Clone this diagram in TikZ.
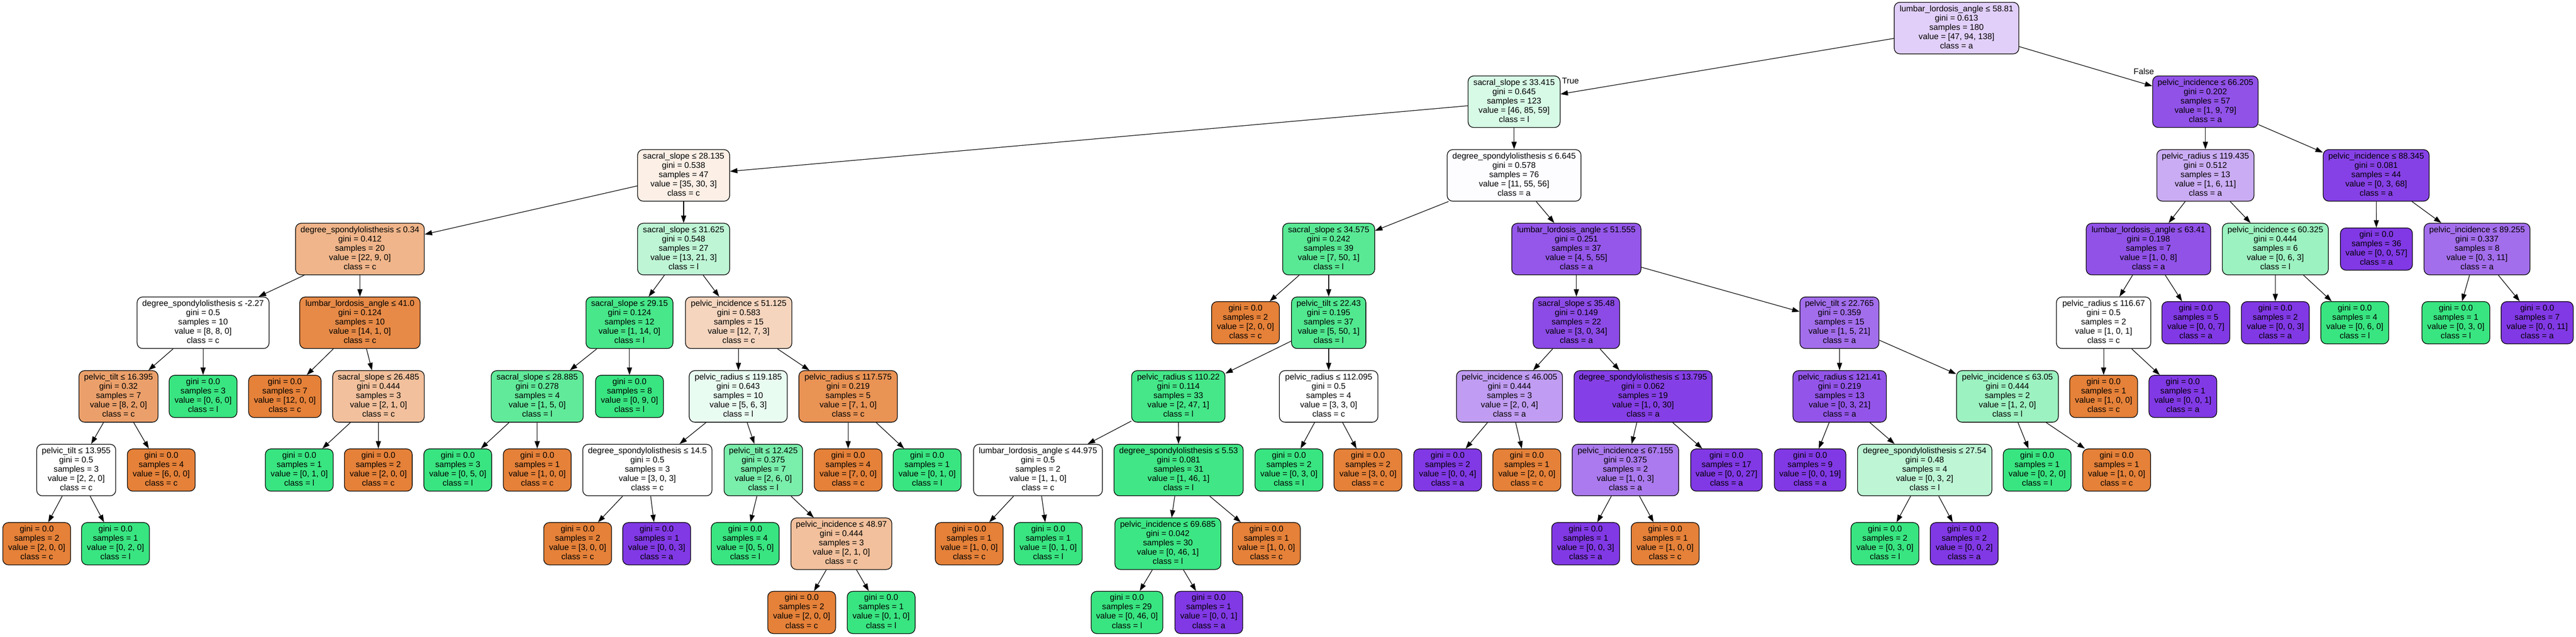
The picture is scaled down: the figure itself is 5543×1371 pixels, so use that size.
\documentclass[tikz,border=0pt]{standalone}
\usepackage{fontspec}
\setmainfont{Liberation Sans}
\usetikzlibrary{arrows.meta}
\definecolor{kC}{RGB}{229,129,57}
\definecolor{kL}{RGB}{57,229,129}
\definecolor{kA}{RGB}{129,57,229}
\newcommand{\IT}[5]{\strut #1\\gini = #2\\samples = #3\\value = [#4]\\class = #5\strut}
\newcommand{\LT}[4]{\strut gini = #1\\samples = #2\\value = [#3]\\class = #4\strut}
\tikzset{
  tn/.style={draw=black, line width=1.4pt, rounded corners=12pt, align=center,
    font=\fontsize{17.9}{20}\selectfont, inner sep=0pt, minimum height=111pt},
  lf/.style={tn, minimum height=91pt, minimum width=146pt},
  edge/.style={line width=1.3pt, -{Triangle[length=16pt,width=11pt]}},
  elab/.style={font=\fontsize{17.9}{20}\selectfont, inner sep=0pt}
}
\begin{document}
\begin{tikzpicture}[x=1pt,y=-1pt]
\useasboundingbox[fill=white] (0,0) rectangle (5543,1371);
% level 0
\node[tn, minimum width=268pt, fill=kA!24!white] (n0) at (4210,60.5) {\IT{lumbar\_lordosis\_angle ≤ 58.81}{0.613}{180}{47, 94, 138}{a}};
% level 1
\node[tn, minimum width=198pt, fill=kL!20!white] (n1) at (3258,219) {\IT{sacral\_slope ≤ 33.415}{0.645}{123}{46, 85, 59}{l}};
\node[tn, minimum width=227pt, fill=kA!87.5!white] (n2) at (4745.5,219) {\IT{pelvic\_incidence ≤ 66.205}{0.202}{57}{1, 9, 79}{a}};
% level 2
\node[tn, minimum width=198pt, fill=kC!13!white] (n3) at (1471,377.6) {\IT{sacral\_slope ≤ 28.135}{0.538}{47}{35, 30, 3}{c}};
\node[tn, minimum width=288pt, fill=kA!1.5!white] (n4) at (3258,377.6) {\IT{degree\_spondylolisthesis ≤ 6.645}{0.578}{76}{11, 55, 56}{a}};
\node[tn, minimum width=209pt, fill=kA!42!white] (n5) at (4745.5,377.6) {\IT{pelvic\_radius ≤ 119.435}{0.512}{13}{1, 6, 11}{a}};
\node[tn, minimum width=228pt, fill=kA!96!white] (n6) at (5113,377.6) {\IT{pelvic\_incidence ≤ 88.345}{0.081}{44}{0, 3, 68}{a}};
% level 3
\node[tn, minimum width=277pt, fill=kC!59!white] (n7) at (774.5,536.2) {\IT{degree\_spondylolisthesis ≤ 0.34}{0.412}{20}{22, 9, 0}{c}};
\node[tn, minimum width=198pt, fill=kL!33!white] (n8) at (1471,536.2) {\IT{sacral\_slope ≤ 31.625}{0.548}{27}{13, 21, 3}{l}};
\node[tn, minimum width=198pt, fill=kL!84!white] (n9) at (2859,536.2) {\IT{sacral\_slope ≤ 34.575}{0.242}{39}{7, 50, 1}{l}};
\node[tn, minimum width=278pt, fill=kA!85!white] (n10) at (3392,536.2) {\IT{lumbar\_lordosis\_angle ≤ 51.555}{0.251}{37}{4, 5, 55}{a}};
\node[tn, minimum width=268pt, fill=kA!87.5!white] (n11) at (4623,536.2) {\IT{lumbar\_lordosis\_angle ≤ 63.41}{0.198}{7}{1, 0, 8}{a}};
\node[tn, minimum width=228pt, fill=kL!50!white] (n12) at (4896,536.2) {\IT{pelvic\_incidence ≤ 60.325}{0.444}{6}{0, 6, 3}{l}};
\node[lf, minimum width=155pt, fill=kA] (n13) at (5113.5,536.2) {\LT{0.0}{36}{0, 0, 57}{a}};
\node[tn, minimum width=228pt, fill=kA!73!white] (n14) at (5330,536.2) {\IT{pelvic\_incidence ≤ 89.255}{0.337}{8}{0, 3, 11}{a}};
% level 4
\node[tn, minimum width=284pt, fill=white] (n15) at (437,694.8) {\IT{degree\_spondylolisthesis ≤ -2.27}{0.5}{10}{8, 8, 0}{c}};
\node[tn, minimum width=259pt, fill=kC!93!white] (n16) at (774.5,694.8) {\IT{lumbar\_lordosis\_angle ≤ 41.0}{0.124}{10}{14, 1, 0}{c}};
\node[tn, minimum width=187pt, fill=kL!93!white] (n17) at (1354.5,694.8) {\IT{sacral\_slope ≤ 29.15}{0.124}{12}{1, 14, 0}{l}};
\node[tn, minimum width=229pt, fill=kC!33!white] (n18) at (1589.5,694.8) {\IT{pelvic\_incidence ≤ 51.125}{0.583}{15}{12, 7, 3}{c}};
\node[lf, fill=kC] (n19) at (2680,694.8) {\LT{0.0}{2}{2, 0, 0}{c}};
\node[tn, minimum width=160pt, fill=kL!88!white] (n20) at (2859,694.8) {\IT{pelvic\_tilt ≤ 22.43}{0.195}{37}{5, 50, 1}{l}};
\node[tn, minimum width=186pt, fill=kA!91!white] (n21) at (3392,694.8) {\IT{sacral\_slope ≤ 35.48}{0.149}{22}{3, 0, 34}{a}};
\node[tn, minimum width=170pt, fill=kA!73!white] (n22) at (3958,694.8) {\IT{pelvic\_tilt ≤ 22.765}{0.359}{15}{1, 5, 21}{a}};
\node[tn, minimum width=203pt, fill=white] (n23) at (4526.5,694.8) {\IT{pelvic\_radius ≤ 116.67}{0.5}{2}{1, 0, 1}{c}};
\node[lf, fill=kA] (n24) at (4725,694.8) {\LT{0.0}{5}{0, 0, 7}{a}};
\node[lf, fill=kA] (n25) at (4896,694.8) {\LT{0.0}{2}{0, 0, 3}{a}};
\node[lf, fill=kL] (n26) at (5067,694.8) {\LT{0.0}{4}{0, 6, 0}{l}};
\node[lf, fill=kL] (n27) at (5284.5,694.8) {\LT{0.0}{1}{0, 3, 0}{l}};
\node[lf, minimum width=155pt, fill=kA] (n28) at (5459.5,694.8) {\LT{0.0}{7}{0, 0, 11}{a}};
% level 5
\node[tn, minimum width=170pt, fill=kC!75!white] (n29) at (255,853.4) {\IT{pelvic\_tilt ≤ 16.395}{0.32}{7}{8, 2, 0}{c}};
\node[lf, fill=kL] (n30) at (437,853.4) {\LT{0.0}{3}{0, 6, 0}{l}};
\node[lf, minimum width=156pt, fill=kC] (n31) at (613,853.4) {\LT{0.0}{7}{12, 0, 0}{c}};
\node[tn, minimum width=197pt, fill=kC!50!white] (n32) at (814.5,853.4) {\IT{sacral\_slope ≤ 26.485}{0.444}{3}{2, 1, 0}{c}};
\node[tn, minimum width=198pt, fill=kL!80!white] (n33) at (1156,853.4) {\IT{sacral\_slope ≤ 28.885}{0.278}{4}{1, 5, 0}{l}};
\node[lf, fill=kL] (n34) at (1354.5,853.4) {\LT{0.0}{8}{0, 9, 0}{l}};
\node[tn, minimum width=211pt, fill=kL!11!white] (n35) at (1588.5,853.4) {\IT{pelvic\_radius ≤ 119.185}{0.643}{10}{5, 6, 3}{l}};
\node[tn, minimum width=212pt, fill=kC!86!white] (n36) at (1825,853.4) {\IT{pelvic\_radius ≤ 117.575}{0.219}{5}{7, 1, 0}{c}};
\node[tn, minimum width=201pt, fill=kL!94!white] (n37) at (2535.5,853.4) {\IT{pelvic\_radius ≤ 110.22}{0.114}{33}{2, 47, 1}{l}};
\node[tn, minimum width=212pt, fill=white] (n38) at (2859,853.4) {\IT{pelvic\_radius ≤ 112.095}{0.5}{4}{3, 3, 0}{c}};
\node[tn, minimum width=228pt, fill=kA!50!white] (n39) at (3248,853.4) {\IT{pelvic\_incidence ≤ 46.005}{0.444}{3}{2, 0, 4}{a}};
\node[tn, minimum width=297pt, fill=kA!97!white] (n40) at (3535.5,853.4) {\IT{degree\_spondylolisthesis ≤ 13.795}{0.062}{19}{1, 0, 30}{a}};
\node[tn, minimum width=201pt, fill=kA!86!white] (n41) at (3958.5,853.4) {\IT{pelvic\_radius ≤ 121.41}{0.219}{13}{0, 3, 21}{a}};
\node[tn, minimum width=219pt, fill=kL!50!white] (n42) at (4319.5,853.4) {\IT{pelvic\_incidence ≤ 63.05}{0.444}{2}{1, 2, 0}{l}};
\node[lf, fill=kC] (n43) at (4526.5,853.4) {\LT{0.0}{1}{1, 0, 0}{c}};
\node[lf, fill=kA] (n44) at (4697,853.4) {\LT{0.0}{1}{0, 0, 1}{a}};
% level 6
\node[tn, minimum width=170pt, fill=white] (n45) at (164,1011.9) {\IT{pelvic\_tilt ≤ 13.955}{0.5}{3}{2, 2, 0}{c}};
\node[lf, fill=kC] (n46) at (347,1011.9) {\LT{0.0}{4}{6, 0, 0}{c}};
\node[lf, fill=kL] (n47) at (644,1011.9) {\LT{0.0}{1}{0, 1, 0}{l}};
\node[lf, fill=kC] (n48) at (814,1011.9) {\LT{0.0}{2}{2, 0, 0}{c}};
\node[lf, fill=kL] (n49) at (985,1011.9) {\LT{0.0}{3}{0, 5, 0}{l}};
\node[lf, fill=kC] (n50) at (1156,1011.9) {\LT{0.0}{1}{1, 0, 0}{c}};
\node[tn, minimum width=278pt, fill=white] (n51) at (1393,1011.9) {\IT{degree\_spondylolisthesis ≤ 14.5}{0.5}{3}{3, 0, 3}{c}};
\node[tn, minimum width=169pt, fill=kL!67!white] (n52) at (1642.5,1011.9) {\IT{pelvic\_tilt ≤ 12.425}{0.375}{7}{2, 6, 0}{l}};
\node[lf, fill=kC] (n53) at (1825,1011.9) {\LT{0.0}{4}{7, 0, 0}{c}};
\node[lf, fill=kL] (n54) at (1995,1011.9) {\LT{0.0}{1}{0, 1, 0}{l}};
\node[tn, minimum width=277pt, fill=white] (n55) at (2233.5,1011.9) {\IT{lumbar\_lordosis\_angle ≤ 44.975}{0.5}{2}{1, 1, 0}{c}};
\node[tn, minimum width=278pt, fill=kL!96!white] (n56) at (2536,1011.9) {\IT{degree\_spondylolisthesis ≤ 5.53}{0.081}{31}{1, 46, 1}{l}};
\node[lf, fill=kL] (n57) at (2773.5,1011.9) {\LT{0.0}{2}{0, 3, 0}{l}};
\node[lf, fill=kC] (n58) at (2943.5,1011.9) {\LT{0.0}{2}{3, 0, 0}{c}};
\node[lf, fill=kA] (n59) at (3115,1011.9) {\LT{0.0}{2}{0, 0, 4}{a}};
\node[lf, fill=kC] (n60) at (3285.5,1011.9) {\LT{0.0}{1}{2, 0, 0}{c}};
\node[tn, minimum width=229pt, fill=kA!67!white] (n61) at (3497.5,1011.9) {\IT{pelvic\_incidence ≤ 67.155}{0.375}{2}{1, 0, 3}{a}};
\node[lf, minimum width=154pt, fill=kA] (n62) at (3715,1011.9) {\LT{0.0}{17}{0, 0, 27}{a}};
\node[lf, minimum width=154pt, fill=kA] (n63) at (3895,1011.9) {\LT{0.0}{9}{0, 0, 19}{a}};
\node[tn, minimum width=289pt, fill=kL!33!white] (n64) at (4141.5,1011.9) {\IT{degree\_spondylolisthesis ≤ 27.54}{0.48}{4}{0, 3, 2}{l}};
\node[lf, fill=kL] (n65) at (4383.5,1011.9) {\LT{0.0}{1}{0, 2, 0}{l}};
\node[lf, fill=kC] (n66) at (4554.5,1011.9) {\LT{0.0}{1}{1, 0, 0}{c}};
% level 7
\node[lf, fill=kC] (n67) at (79,1170.5) {\LT{0.0}{2}{2, 0, 0}{c}};
\node[lf, fill=kL] (n68) at (248.5,1170.5) {\LT{0.0}{1}{0, 2, 0}{l}};
\node[lf, fill=kC] (n69) at (1243,1170.5) {\LT{0.0}{2}{3, 0, 0}{c}};
\node[lf, fill=kA] (n70) at (1413,1170.5) {\LT{0.0}{1}{0, 0, 3}{a}};
\node[lf, fill=kL] (n71) at (1603.5,1170.5) {\LT{0.0}{4}{0, 5, 0}{l}};
\node[tn, minimum width=217pt, fill=kC!50!white] (n72) at (1810.5,1170.5) {\IT{pelvic\_incidence ≤ 48.97}{0.444}{3}{2, 1, 0}{c}};
\node[lf, fill=kC] (n73) at (2085.5,1170.5) {\LT{0.0}{1}{1, 0, 0}{c}};
\node[lf, fill=kL] (n74) at (2255.5,1170.5) {\LT{0.0}{1}{0, 1, 0}{l}};
\node[tn, minimum width=228pt, fill=kL!98!white] (n75) at (2513,1170.5) {\IT{pelvic\_incidence ≤ 69.685}{0.042}{30}{0, 46, 1}{l}};
\node[lf, fill=kC] (n76) at (2725,1170.5) {\LT{0.0}{1}{1, 0, 0}{c}};
\node[lf, fill=kA] (n77) at (3412,1170.5) {\LT{0.0}{1}{0, 0, 3}{a}};
\node[lf, fill=kC] (n78) at (3583,1170.5) {\LT{0.0}{1}{1, 0, 0}{c}};
\node[lf, fill=kL] (n79) at (4056,1170.5) {\LT{0.0}{2}{0, 3, 0}{l}};
\node[lf, fill=kA] (n80) at (4226.5,1170.5) {\LT{0.0}{2}{0, 0, 2}{a}};
% level 8
\node[lf, fill=kC] (n81) at (1725,1318.5) {\LT{0.0}{2}{2, 0, 0}{c}};
\node[lf, fill=kL] (n82) at (1896,1318.5) {\LT{0.0}{1}{0, 1, 0}{l}};
\node[lf, minimum width=154pt, fill=kL] (n83) at (2425,1318.5) {\LT{0.0}{29}{0, 46, 0}{l}};
\node[lf, fill=kA] (n84) at (2601,1318.5) {\LT{0.0}{1}{0, 0, 1}{a}};
% edges
\foreach \p/\c in {n0/n1,n0/n2,n1/n3,n1/n4,n2/n5,n2/n6,n3/n7,n3/n8,n4/n9,n4/n10,
  n5/n11,n5/n12,n6/n13,n6/n14,n7/n15,n7/n16,n8/n17,n8/n18,n9/n19,n9/n20,
  n10/n21,n10/n22,n11/n23,n11/n24,n12/n25,n12/n26,n14/n27,n14/n28,
  n15/n29,n15/n30,n16/n31,n16/n32,n17/n33,n17/n34,n18/n35,n18/n36,
  n20/n37,n20/n38,n21/n39,n21/n40,n22/n41,n22/n42,n23/n43,n23/n44,
  n29/n45,n29/n46,n32/n47,n32/n48,n33/n49,n33/n50,n35/n51,n35/n52,
  n36/n53,n36/n54,n37/n55,n37/n56,n38/n57,n38/n58,n39/n59,n39/n60,
  n40/n61,n40/n62,n41/n63,n41/n64,n42/n65,n42/n66,n45/n67,n45/n68,
  n51/n69,n51/n70,n52/n71,n52/n72,n55/n73,n55/n74,n56/n75,n56/n76,
  n61/n77,n61/n78,n64/n79,n64/n80,n72/n81,n72/n82,n75/n83,n75/n84}
  \draw[edge] (\p) -- (\c);
\node[elab, anchor=west] (lt) at (3361,174) {True};
\node[elab] (lf) at (4613,154) {False};
\end{tikzpicture}
\end{document}
